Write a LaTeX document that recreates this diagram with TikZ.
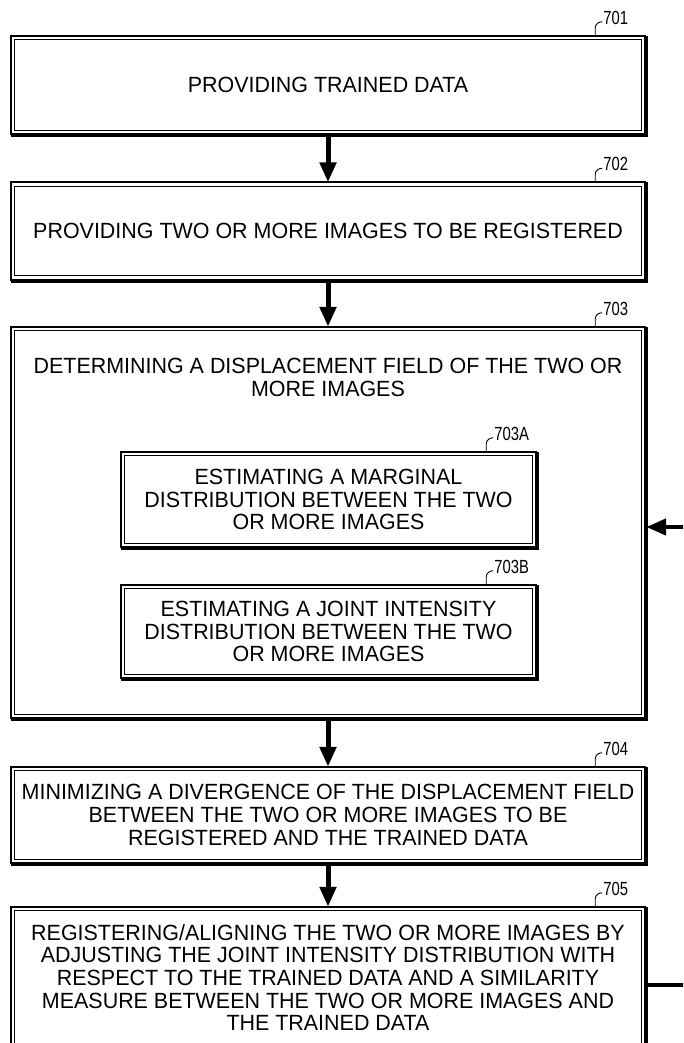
\documentclass[tikz,border=0pt]{standalone}
\usepackage{fontspec}
\setmainfont{Liberation Sans}[FakeStretch=0.975]
\newfontfamily\reffont[FakeStretch=0.78]{Liberation Sans}
\usetikzlibrary{arrows.meta,calc}

\tikzset{
  stepbox/.style={draw=none, inner sep=0pt, align=center,
    font=\fontsize{22}{22.7}\selectfont},
  titletext/.style={inner sep=0pt, align=center,
    font=\fontsize{22}{22.7}\selectfont},
  reflbl/.style={inner sep=1pt, font=\reffont\fontsize{19}{19}\selectfont},
  hookline/.style={line width=0.9pt},
  flowarrow/.style={line width=5pt, -{Triangle[width=16pt,length=20pt]}},
  flowline/.style={line width=4.5pt},
}

\newcommand{\patbox}[1]{%
  \draw[line width=2pt] (#1.north west) rectangle (#1.south east);
  \draw[line width=3pt, line join=miter]
    ([shift={(1.5,0)}]#1.north east) -- ([shift={(1.5,1.5)}]#1.south east)
    -- ([shift={(0,1.5)}]#1.south west);
  \draw[line width=0.8pt] ([shift={(4,4)}]#1.north west) rectangle ([shift={(-4,-4)}]#1.south east);
}
\newcommand{\reftag}[3]{%
  \node[reflbl, anchor=west] (#2) at ([shift={(-43,-18)}]#1.north east) {#3};
  \draw[hookline] ([shift={(-50,0)}]#1.north east) -- ++(0,-8)
    .. controls +(0,-4) and +(-3,0) .. ([shift={(0,-4)}]#2.south west);
}

\begin{document}
\begin{tikzpicture}[x=1pt,y=-1pt]
\useasboundingbox (0,0) rectangle (683,1043);
\clip (0,0) rectangle (683,1043);

% main boxes
\node[stepbox, minimum width=634pt, minimum height=98pt] (n701) at (328,85) {PROVIDING TRAINED DATA};
\node[stepbox, minimum width=634pt, minimum height=97pt] (n702) at (328,231) {PROVIDING TWO OR MORE IMAGES TO BE REGISTERED};
\node[stepbox, minimum width=634pt, minimum height=391pt] (n703) at (328,522.5) {};
\node[titletext] (t703) at (328,377.5) {DETERMINING A DISPLACEMENT FIELD OF THE TWO OR\\MORE IMAGES};
\node[stepbox, minimum width=415pt, minimum height=95pt] (n703A) at (328.5,499.5) {ESTIMATING A MARGINAL\\DISTRIBUTION BETWEEN THE TWO\\OR MORE IMAGES};
\node[stepbox, minimum width=415pt, minimum height=93pt] (n703B) at (328.5,631.5) {ESTIMATING A JOINT INTENSITY\\DISTRIBUTION BETWEEN THE TWO\\OR MORE IMAGES};
\node[stepbox, minimum width=634pt, minimum height=96pt] (n704) at (328,815) {MINIMIZING A DIVERGENCE OF THE DISPLACEMENT FIELD\\BETWEEN THE TWO OR MORE IMAGES TO BE\\REGISTERED AND THE TRAINED DATA};
\node[stepbox, minimum width=634pt, minimum height=141pt] (n705) at (328,977.5) {REGISTERING/ALIGNING THE TWO OR MORE IMAGES BY\\ADJUSTING THE JOINT INTENSITY DISTRIBUTION WITH\\RESPECT TO THE TRAINED DATA AND A SIMILARITY\\MEASURE BETWEEN THE TWO OR MORE IMAGES AND\\THE TRAINED DATA};

\patbox{n701}
\patbox{n702}
\patbox{n703}
\patbox{n703A}
\patbox{n703B}
\patbox{n704}
\patbox{n705}

% reference labels
\reftag{n701}{l701}{701}
\reftag{n702}{l702}{702}
\reftag{n703}{l703}{703}
\reftag{n703A}{l703A}{703A}
\reftag{n703B}{l703B}{703B}
\reftag{n704}{l704}{704}
\reftag{n705}{l705}{705}

% flow arrows
\draw[flowarrow] ([shift={(0,1.5)}]n701.south) -- (n702.north);
\draw[flowarrow] ([shift={(0,1.5)}]n702.south) -- (n703.north);
\draw[flowarrow] ([shift={(0,1.5)}]n703.south) -- (n704.north);
\draw[flowarrow] ([shift={(0,1.5)}]n704.south) -- (n705.north);

% feedback loop
\coordinate (fa) at (700,985);
\coordinate (fb) at (700,527);
\draw[flowline] (n705.east |- fa) -- (fa) -- (fb);
\draw[flowarrow, line width=4.5pt] (fb) -- ([shift={(1,0)}]n703.east |- fb);
\end{tikzpicture}
\end{document}
